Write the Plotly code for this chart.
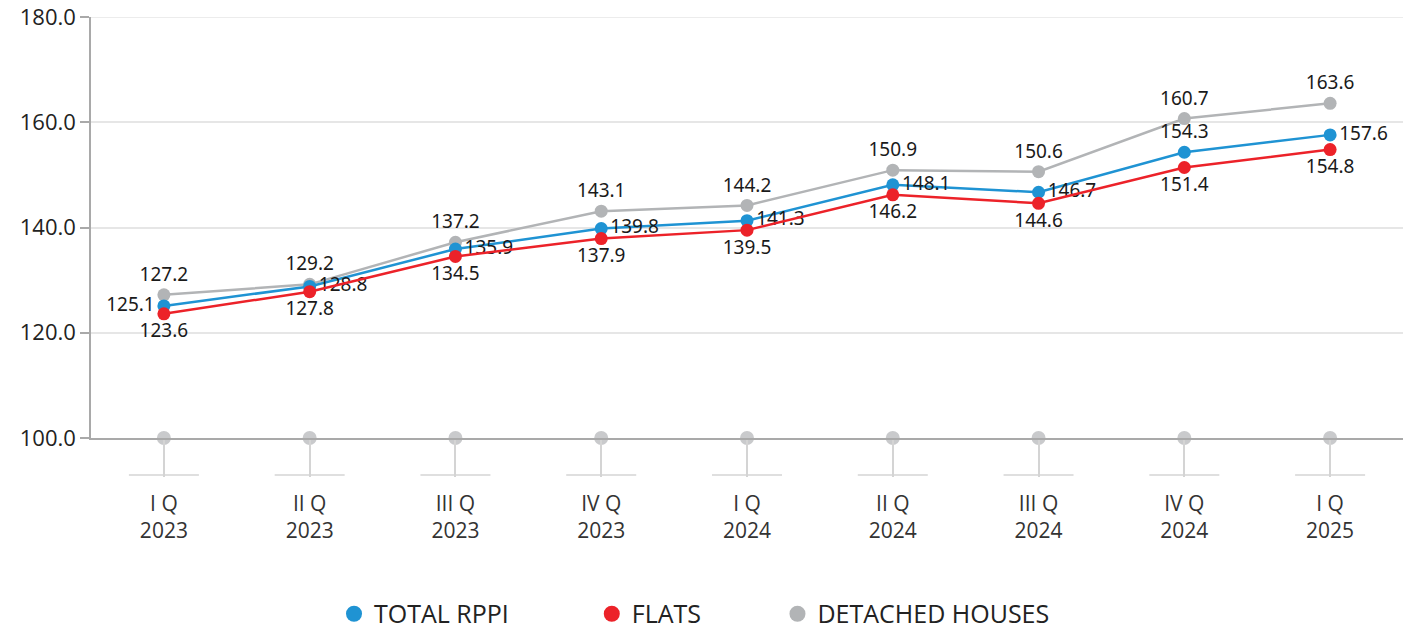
import plotly.graph_objects as go

categories = ["I Q<br>2023", "II Q<br>2023", "III Q<br>2023", "IV Q<br>2023", "I Q<br>2024",
              "II Q<br>2024", "III Q<br>2024", "IV Q<br>2024", "I Q<br>2025"]
total_rppi = [125.1, 128.8, 135.9, 139.8, 141.3, 148.1, 146.7, 154.3, 157.6]
flats = [123.6, 127.8, 134.5, 137.9, 139.5, 146.2, 144.6, 151.4, 154.8]
detached = [127.2, 129.2, 137.2, 143.1, 144.2, 150.9, 150.6, 160.7, 163.6]
y_ticks = [100, 120, 140, 160, 180]

BLUE = "#1f93d3"
RED = "#ec2229"
GRAY = "#b2b4b6"
DECO = "#c9cacc"

xs = list(range(len(categories)))
total_pos = ["middle left", "middle right", "middle right", "middle right", "middle right",
             "middle right", "middle right", "top center", "middle right"]

label_font = dict(family="Noto Sans, Open Sans, sans-serif", size=19, color="#1a1a1a")

fig = go.Figure()

# base markers on the 100 line
fig.add_trace(go.Scatter(x=xs, y=[y_ticks[0]] * len(xs), mode="markers",
                         marker=dict(size=14, color=DECO), cliponaxis=False,
                         showlegend=False, hoverinfo="skip"))

fig.add_trace(go.Scatter(x=xs, y=detached, mode="lines+markers+text", name="DETACHED HOUSES",
                         line=dict(color=GRAY, width=2.5), marker=dict(size=13, color=GRAY),
                         text=[f"{v:.1f}" for v in detached], textposition="top center",
                         textfont=label_font, cliponaxis=False, showlegend=False))
fig.add_trace(go.Scatter(x=xs, y=total_rppi, mode="lines+markers+text", name="TOTAL RPPI",
                         line=dict(color=BLUE, width=2.5), marker=dict(size=13, color=BLUE),
                         text=[f"{v:.1f}" for v in total_rppi], textposition=total_pos,
                         textfont=label_font, cliponaxis=False, showlegend=False))
fig.add_trace(go.Scatter(x=xs, y=flats, mode="lines+markers+text", name="FLATS",
                         line=dict(color=RED, width=2.5), marker=dict(size=13, color=RED),
                         text=[f"{v:.1f}" for v in flats], textposition="bottom center",
                         textfont=label_font, cliponaxis=False, showlegend=False))

# legend entries
for nm, col in [("TOTAL RPPI" + "\u00a0" * 12, BLUE), ("FLATS" + "\u00a0" * 11, RED), ("DETACHED HOUSES", GRAY)]:
    fig.add_trace(go.Scatter(x=[None], y=[None], mode="markers", name=nm,
                             marker=dict(size=18, color=col), showlegend=True))

# short horizontal feet under tick stems
for x in xs:
    fig.add_shape(type="line", xref="x", yref="paper", x0=x - 0.24, x1=x + 0.24,
                  y0=-0.088, y1=-0.088, line=dict(color="#d4d4d4", width=1.5))

# top gridline (plotly drops the grid line at the range end)
fig.add_shape(type="line", xref="paper", yref="y", x0=0, x1=1, y0=y_ticks[-1], y1=y_ticks[-1],
              line=dict(color="#e6e6e6", width=1.5), layer="below")

fig.update_layout(
    width=1405, height=625,
    margin=dict(l=83, r=10, t=9, b=195, autoexpand=False),
    plot_bgcolor="white", paper_bgcolor="white",
    font=dict(family="Open Sans, Noto Sans, sans-serif", color="#222"),
    legend=dict(orientation="h", x=0.46, xanchor="center", y=-0.418, yanchor="middle",
                font=dict(family="Open Sans, sans-serif", size=25, color="#222"),
                itemsizing="trace", traceorder="normal"),
    xaxis=dict(range=[-0.5, 8.5], tickmode="array", tickvals=xs, ticktext=categories,
               showgrid=False, zeroline=False, showline=True, linecolor="#a9a9a9", linewidth=1.5,
               ticks="outside", ticklen=37, tickwidth=1.5, tickcolor="#d4d4d4",
               ticklabelstandoff=9, automargin=False,
               tickfont=dict(family="Open Sans, sans-serif", size=21, color="#333")),
    yaxis=dict(range=[100, 180], tickmode="array", tickvals=y_ticks,
               ticktext=[f"{v:.1f}" for v in y_ticks], automargin=False,
               ticklabeloverflow="allow",
               showgrid=True, gridcolor="#e6e6e6", gridwidth=1.5, zeroline=False,
               showline=True, linecolor="#a9a9a9", linewidth=1.5,
               ticks="outside", ticklen=9, tickcolor="#a9a9a9", tickwidth=1.5,
               tickfont=dict(family="Open Sans, sans-serif", size=22, color="#222")),
)

fig.write_html("out.html")
